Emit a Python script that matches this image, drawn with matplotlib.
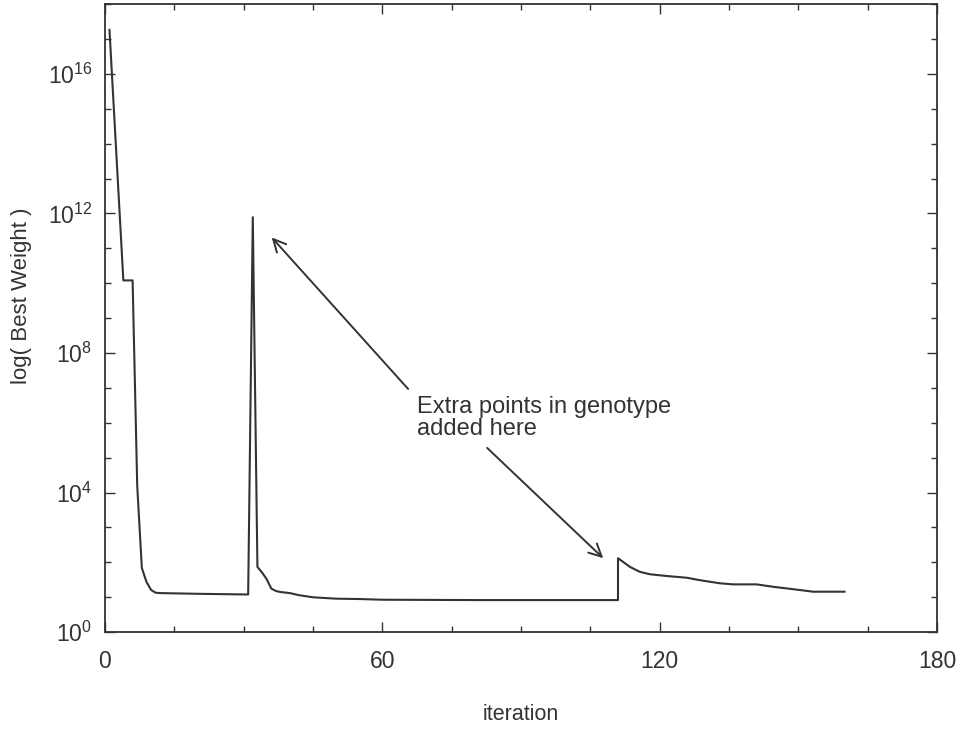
import matplotlib
matplotlib.use("Agg")
import matplotlib.pyplot as plt
from matplotlib.ticker import FixedLocator, MultipleLocator, LogFormatterSciNotation

plt.rcParams['font.family'] = ['Liberation Sans', 'DejaVu Sans']
plt.rcParams['mathtext.default'] = 'regular'

# Best weight per iteration (log10 of the value)
iteration = [1, 4, 6, 7, 8, 9, 10, 11, 12, 20, 31,
             32, 33, 34, 35, 36, 37, 38, 40, 42, 45, 50, 55, 60, 80, 111,
             111, 113.6, 115.7, 117.9, 121.5, 125.9, 128.7, 133.1, 135.9,
             141, 144.6, 149, 153.2, 160]
log_weight = [17.26, 10.08, 10.08, 4.2, 1.84, 1.44, 1.21, 1.13, 1.12, 1.10, 1.08,
              11.89, 1.87, 1.71, 1.52, 1.25, 1.18, 1.15, 1.12, 1.06, 1.00, 0.96, 0.95, 0.93, 0.92, 0.92,
              2.12, 1.87, 1.73, 1.66, 1.61, 1.56, 1.49, 1.40, 1.37,
              1.37, 1.30, 1.23, 1.16, 1.16]
best_weight = [10 ** v for v in log_weight]

x_major = [0, 60, 120, 180]
y_major = [1e0, 1e4, 1e8, 1e12, 1e16]

ink = '#333333'

fig = plt.figure(figsize=(9.62, 7.30), dpi=100)
ax = fig.add_axes([0.109, 0.134, 0.865, 0.8605])

ax.plot(iteration, best_weight, color=ink, lw=1.5)

ax.set_yscale('log')
ax.set_xlim(0, 180)
ax.set_ylim(1e0, 1e18)

ax.xaxis.set_major_locator(FixedLocator(x_major))
ax.xaxis.set_minor_locator(MultipleLocator(15))
ax.yaxis.set_major_locator(FixedLocator(y_major))
ax.yaxis.set_minor_locator(FixedLocator([10.0 ** k for k in range(0, 19)]))
ax.yaxis.set_major_formatter(LogFormatterSciNotation())
ax.yaxis.set_minor_formatter(plt.NullFormatter())

ax.tick_params(which='both', direction='in', top=True, right=True,
               colors=ink, labelcolor=ink, labelsize=16.5, width=1.0)
ax.tick_params(which='major', length=7, pad=9)
ax.tick_params(which='minor', length=4)
ax.tick_params(axis='x', which='major', pad=13)
for s in ax.spines.values():
    s.set_color(ink)
    s.set_linewidth(1.3)

ax.set_xlabel('iteration', fontsize=15.5, color=ink, labelpad=22)
ax.set_ylabel('log( Best Weight )', fontsize=16, color=ink, labelpad=12)
ax.yaxis.set_label_coords(-0.088, 0.535)

ax.text(67.5, 10 ** 6.77, 'Extra points in genotype\nadded here',
        fontsize=17, color=ink, ha='left', va='top', linespacing=1.0)

arrow = dict(arrowstyle='->,head_length=0.9,head_width=0.45', color=ink, lw=1.4,
             shrinkA=0, shrinkB=0)
ax.annotate('', xy=(36.1, 10 ** 11.31), xytext=(65.6, 10 ** 6.97), arrowprops=arrow)
ax.annotate('', xy=(107.8, 10 ** 2.12), xytext=(82.7, 10 ** 5.28), arrowprops=arrow)

fig.savefig('out.png', dpi=100)
